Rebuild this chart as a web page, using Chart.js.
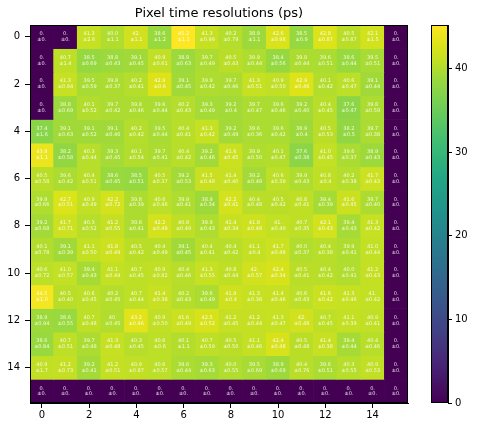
<!DOCTYPE html>
<html><head><meta charset="utf-8">
<script src="https://cdn.jsdelivr.net/npm/chart.js@4/dist/chart.umd.min.js"></script>
<style>html,body{margin:0;padding:0;background:#fff;}#wrap{position:relative;width:477px;height:423px;}canvas{position:absolute;left:0;top:0;}</style>
</head><body><div id="wrap"><canvas id="hm" width="477" height="423"></canvas><canvas id="cb" width="477" height="423"></canvas></div>
<script>
// Column / row labels
const colLabels = ["0","1","2","3","4","5","6","7","8","9","10","11","12","13","14","15"];
const axisTicks = [0,2,4,6,8,10,12,14];
const cbTicks = [0,10,20,30,40];

// Mean values per row (as printed)
const row00 = ["0.","0.","41.3","40.0","42.","38.6","45.2","41.3","40.2","38.9","42.6","38.5","42.8","40.5","42.1","0."];
const row01 = ["0.","40.7","38.5","38.8","39.1","40.9","38.8","39.7","40.5","39.9","38.4","39.8","39.6","38.6","39.5","0."];
const row02 = ["0.","41.3","39.5","39.8","40.2","42.9","39.1","39.9","39.7","41.3","40.9","42.9","40.1","40.6","39.1","0."];
const row03 = ["0.","38.8","40.1","39.7","39.8","39.6","40.2","39.3","39.2","39.7","39.6","39.2","40.4","37.6","39.8","0."];
const row04 = ["37.4","39.1","39.1","39.1","40.2","39.5","40.4","41.3","39.2","39.6","39.6","38.9","40.5","38.2","39.7","0."];
const row05 = ["43.8","38.2","40.3","39.3","40.1","39.7","40.4","39.2","41.6","39.9","40.1","37.6","41.0","39.6","38.9","0."];
const row06 = ["40.5","39.6","40.4","38.6","38.5","40.5","39.2","41.5","41.4","39.2","40.6","39.9","40.8","40.2","41.7","0."];
const row07 = ["39.9","42.7","40.9","42.2","39.8","40.6","39.9","38.9","42.2","40.4","40.5","40.8","39.4","41.6","39.7","0."];
const row08 = ["39.2","41.7","40.3","41.2","39.8","42.2","40.8","39.9","41.4","41.8","41.","40.7","42.1","39.4","41.3","0."];
const row09 = ["40.1","39.1","41.1","41.8","40.5","40.4","39.1","40.4","40.4","41.1","41.7","40.0","40.4","39.9","41.0","0."];
const row10 = ["40.6","41.0","39.4","41.1","40.7","40.9","40.4","41.3","40.8","42.","42.4","40.5","40.4","40.0","41.2","0."];
const row11 = ["44.5","40.5","40.6","40.2","40.7","41.4","40.2","39.6","41.9","41.3","41.4","40.6","41.6","41.3","41.","0."];
const row12 = ["38.9","38.6","40.7","40.","43.2","40.9","41.6","42.5","41.2","41.2","41.3","42.","40.7","41.1","40.9","0."];
const row13 = ["38.6","40.7","39.7","41.3","40.3","40.6","40.1","40.7","40.5","41.1","42.4","40.5","41.4","39.4","40.4","0."];
const row14 = ["40.9","41.2","39.2","41.2","40.9","40.6","39.6","39.3","40.0","39.5","38.9","40.4","39.6","40.3","40.9","0."];
const row15 = ["0.","0.","0.","0.","0.","0.","0.","0.","0.","0.","0.","0.","0.","0.","0.","0."];

// Uncertainties per row (as printed)
const err00 = ["0.","0.","2.6","1.1","1.1","1.2","1.1","0.99","0.79","1.1","0.98","0.9","0.87","0.87","1.5","0."];
const err01 = ["0.","1.4","0.69","0.43","0.45","0.61","0.63","0.49","0.43","0.44","0.56","0.44","0.51","0.44","0.51","0."];
const err02 = ["0.","0.94","0.59","0.37","0.41","0.6","0.45","0.42","0.46","0.51","0.50","0.46","0.42","0.47","0.44","0."];
const err03 = ["0.","0.69","0.52","0.42","0.46","0.44","0.43","0.49","0.4","0.47","0.46","0.40","0.45","0.47","0.59","0."];
const err04 = ["1.6","0.63","0.52","0.46","0.42","0.44","0.41","0.42","0.49","0.36","0.42","0.4","0.53","0.5","0.38","0."];
const err05 = ["1.1","0.58","0.44","0.45","0.54","0.41","0.42","0.46","0.45","0.50","0.47","0.38","0.45","0.37","0.43","0."];
const err06 = ["0.58","0.42","0.51","0.45","0.51","0.37","0.53","0.48","0.40","0.48","0.39","0.43","0.4","0.38","0.43","0."];
const err07 = ["0.66","0.51","0.49","0.72","0.39","0.46","0.41","0.34","0.41","0.48","0.42","0.41","0.39","0.45","0.40","0."];
const err08 = ["0.68","0.71","0.52","0.55","0.41","0.49","0.49","0.43","0.34","0.48","0.40","0.35","0.43","0.43","0.42","0."];
const err09 = ["0.78","0.39","0.50","0.49","0.42","0.49","0.45","0.41","0.42","0.4","0.49","0.37","0.38","0.41","0.44","0."];
const err10 = ["0.72","0.57","0.43","0.44","0.45","0.82","0.46","0.55","0.44","0.57","0.34","0.41","0.42","0.41","0.43","0."];
const err11 = ["1.0","0.40","0.45","0.45","0.44","0.38","0.43","0.49","0.4","0.38","0.46","0.43","0.42","0.46","0.42","0."];
const err12 = ["0.94","0.55","0.48","0.45","0.46","0.50","0.49","0.52","0.45","0.44","0.47","0.48","0.45","0.39","0.41","0."];
const err13 = ["0.84","0.51","0.48","0.48","0.45","0.6","1.1","0.59","0.50","0.46","0.48","0.48","0.38","0.44","0.46","0."];
const err14 = ["1.7","0.73","0.41","0.51","0.87","0.57","0.44","0.63","0.55","0.69","0.69","0.76","0.51","0.55","0.53","0."];
const err15 = ["0.","0.","0.","0.","0.","0.","0.","0.","0.","0.","0.","0.","0.","0.","0.","0."];

const rows = [row00,row01,row02,row03,row04,row05,row06,row07,row08,row09,row10,row11,row12,row13,row14,row15];
const errs = [err00,err01,err02,err03,err04,err05,err06,err07,err08,err09,err10,err11,err12,err13,err14,err15];

const vmin = 0;
const vmax = Math.max(...rows.flat().map(parseFloat));

const VIR = [[0,68,1,84],[0.1,72,36,117],[0.2,65,68,135],[0.3,53,95,141],[0.4,42,120,142],[0.5,33,145,140],[0.6,34,168,132],[0.7,68,191,112],[0.8,122,209,81],[0.85,149,216,64],[0.9,189,223,38],[0.95,223,227,24],[1,253,231,37]];
function viridis(t){
  t = Math.max(0, Math.min(1, t));
  for (let i=1;i<VIR.length;i++){
    if (t <= VIR[i][0]){
      const a=VIR[i-1], b=VIR[i], f=(t-a[0])/(b[0]-a[0]);
      return `rgb(${Math.round(a[1]+(b[1]-a[1])*f)},${Math.round(a[2]+(b[2]-a[2])*f)},${Math.round(a[3]+(b[3]-a[3])*f)})`;
    }
  }
  return 'rgb(253,231,37)';
}

const FONT = 'DejaVu Sans';
Chart.defaults.color = '#000';
Chart.defaults.font.family = FONT;

const frame = {
  id:'frame',
  afterDraw(chart){
    const a = chart.chartArea, c = chart.ctx;
    c.save(); c.strokeStyle = '#000'; c.lineWidth = 1;
    c.strokeRect(Math.round(a.left)+0.5, Math.round(a.top)+0.5, Math.round(a.right-a.left)-1, Math.round(a.bottom-a.top)-1);
    c.restore();
  }
};

const cellText = {
  id:'cellText',
  afterDatasetsDraw(chart){
    const c = chart.ctx;
    c.save();
    c.font = `5px "${FONT}"`;
    c.fillStyle = 'rgba(255,255,255,0.85)';
    c.textAlign = 'center'; c.textBaseline = 'middle';
    chart.data.datasets.forEach((ds, r) => {
      chart.getDatasetMeta(r).data.forEach((el, k) => {
        const cx = el.x, cy = (el.y + el.base)/2;
        c.fillText(rows[r][k], cx, cy - 2.9);
        c.fillText('±' + errs[r][k], cx, cy + 2.9);
      });
    });
    c.restore();
  }
};

const datasets = rows.map((row, r) => ({
  data: row.map(() => [r - 0.5, r + 0.5]),
  backgroundColor: row.map(v => viridis((parseFloat(v) - vmin) / (vmax - vmin))),
  borderWidth: 0,
  grouped: false,
  categoryPercentage: 1,
  barPercentage: 1
}));

new Chart(document.getElementById('hm'), {
  type: 'bar',
  data: { labels: colLabels, datasets },
  options: {
    responsive: false, animation: false, devicePixelRatio: 1,
    layout: { padding: { left: 0, right: 69, top: 0, bottom: 0 } },
    plugins: {
      legend: { display: false }, tooltip: { enabled: false },
      title: { display: true, text: 'Pixel time resolutions (ps)', fullSize: false, color: '#000',
        font: { family: FONT, size: 13, weight: 'normal' }, padding: { top: 6, bottom: 3.4 } }
    },
    scales: {
      x: {
        type: 'category', offset: true,
        grid: { display: true, drawOnChartArea: false, tickLength: 5, tickColor: '#000', offset: false },
        border: { display: true, color: '#000' },
        ticks: { autoSkip: false, maxRotation: 0, padding: 1, font: { size: 10 }, color: '#000',
          callback: function(v, i){ return axisTicks.includes(i) ? this.getLabelForValue(v) : null; } },
        afterFit(s){ s.height = 20; }
      },
      y: {
        type: 'linear', reverse: true, min: -0.5, max: 15.5,
        afterBuildTicks(s){ s.ticks = axisTicks.map(v => ({ value: v })); },
        grid: { display: true, drawOnChartArea: false, tickLength: 5, tickColor: '#000' },
        border: { display: true, color: '#000' },
        ticks: { padding: 5, font: { size: 10 }, color: '#000' },
        afterFit(s){ s.width = 30; }
      }
    }
  },
  plugins: [cellText, frame]
});

new Chart(document.getElementById('cb'), {
  type: 'bar',
  data: { labels: [''], datasets: [{
    data: [[vmin, vmax]],
    borderWidth: 0, categoryPercentage: 1, barPercentage: 1,
    backgroundColor: (ctx) => {
      const a = ctx.chart.chartArea; if (!a) return '#888';
      const g = ctx.chart.ctx.createLinearGradient(0, a.bottom, 0, a.top);
      for (let i=0;i<=50;i++){ g.addColorStop(i/50, viridis(i/50)); }
      return g;
    }
  }]},
  options: {
    responsive: false, animation: false, devicePixelRatio: 1,
    layout: { padding: { left: 431, right: 0, top: 25, bottom: 20 } },
    plugins: { legend: { display: false }, tooltip: { enabled: false } },
    scales: {
      x: { display: false },
      y: {
        position: 'right', min: vmin, max: vmax,
        afterBuildTicks(s){ s.ticks = cbTicks.map(v => ({ value: v })); },
        grid: { display: true, drawOnChartArea: false, tickLength: 4, tickColor: '#000' },
        border: { display: true, color: '#000' },
        ticks: { padding: 3, font: { size: 10 }, color: '#000' },
        afterFit(s){ s.width = 29; }
      }
    }
  },
  plugins: [frame]
});
</script>
</body></html>
